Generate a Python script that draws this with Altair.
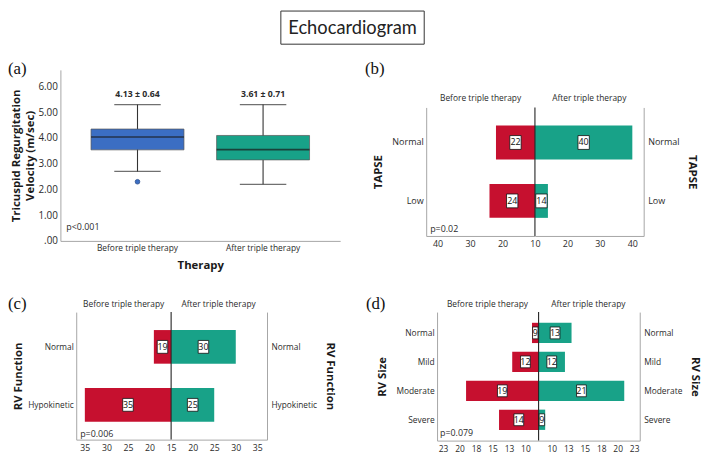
import altair as alt
import pandas as pd

FONT = "Open Sans"
SERIF = "Liberation Serif"
BLUE = "#3b6ec3"
TEAL = "#18a288"
RED = "#c6102f"
FRAME = "#a6a6a6"
TXT = "#2b2b2b"

# ---------------- data ----------------
# (a) box plot summaries
groups = ["Before triple therapy", "After triple therapy"]
q1 = [3.54, 3.15]
median = [4.04, 3.55]
q3 = [4.35, 4.10]
whisker_low = [2.70, 2.20]
whisker_high = [5.30, 5.30]
box_colors = [BLUE, TEAL]
outlier_groups = ["Before triple therapy"]
outlier_values = [2.30]
mean_sd = ["4.13 \u00b1 0.64", "3.61 \u00b1 0.71"]
y_ticks_a = [0, 1, 2, 3, 4, 5, 6]

# (b) TAPSE
tapse_cats = ["Normal", "Low"]
tapse_before = [22, 24]
tapse_after = [40, 14]
tapse_ticks_left = [10, 20, 30, 40]
tapse_ticks_right = [20, 30, 40]

# (c) RV function
rvf_cats = ["Normal", "Hypokinetic"]
rvf_before = [19, 35]
rvf_after = [30, 25]
rvf_ticks_left = [15, 20, 25, 30, 35]
rvf_ticks_right = [20, 25, 30, 35]

# (d) RV size
rvs_cats = ["Normal", "Mild", "Moderate", "Severe"]
rvs_before = [9, 12, 19, 14]
rvs_after = [13, 12, 21, 9]
rvs_ticks = [10, 12.5, 15, 17.5, 20, 22.5]

# ---------------- canvas ----------------
W, H = 703, 450


def one(text):
    return pd.DataFrame({"t": [text]})


def label(text, x, y, size=8.5, align="center", font=FONT, weight="normal", color=TXT):
    return alt.Chart(one(text)).mark_text(
        align=align, baseline="middle", fontSize=size, font=font,
        fontWeight=weight, color=color).encode(
        x=alt.value(x), y=alt.value(y), text="t:N")


# ---------------- title box ----------------
title_rect = alt.Chart(one("")).mark_rect(
    filled=False, stroke="#333", strokeWidth=1).encode(
    x=alt.value(276), x2=alt.value(421), y=alt.value(0.5), y2=alt.value(34))
title_text = label("Echocardiogram", 348.5, 17.5, size=18.5, font="Lato", color="#222")

# ---------------- panel (a) ----------------
box_df = pd.DataFrame({
    "g": groups, "q1": q1, "med": median, "q3": q3,
    "lo": whisker_low, "hi": whisker_high, "lab": mean_sd, "col": box_colors,
})
out_df = pd.DataFrame({"g": outlier_groups, "v": outlier_values})

A_L, A_R, A_T, A_B = 53, 336, 60, 233
x_a = alt.X("g:N", sort=groups,
            scale=alt.Scale(range=[A_L, A_R], paddingInner=0, paddingOuter=0.114),
            axis=alt.Axis(title="Therapy", orient="bottom", offset=A_B - H, labelAngle=0,
                          labelFontSize=8.5, labelPadding=3, titleFontSize=11.5,
                          titleFontWeight="bold", titlePadding=7, ticks=False,
                          domainColor=FRAME))
y_scale_a = alt.Scale(domain=[0, 6.65], range=[A_B, A_T], nice=False, zero=True)
y_axis_a = alt.Axis(title=["Tricuspid Regurgitation", "Velocity (m/sec)"], orient="left",
                    offset=-A_L, values=y_ticks_a,
                    labelExpr="datum.value == 0 ? '.00' : format(datum.value, '.2f')",
                    labelFontSize=10, labelPadding=3, titleFontSize=11.5,
                    titleFontWeight="bold", titlePadding=2, titleLineHeight=14.5,
                    ticks=False, grid=False, domainColor=FRAME)


def ya(field=None, datum=None):
    if datum is not None:
        return alt.Y(datum=datum, type="quantitative", scale=y_scale_a, axis=y_axis_a)
    return alt.Y(field, type="quantitative", scale=y_scale_a, axis=y_axis_a)


base_a = alt.Chart(box_df)
whisk = base_a.mark_rule(color="#333", strokeWidth=1.1).encode(x=x_a, y=ya("lo"), y2="hi")
boxes = base_a.mark_bar(size=94, stroke="#555", strokeWidth=0.7).encode(
    x=x_a, y=ya("q1"), y2="q3", color=alt.Color("col:N", scale=None))
med_line = base_a.mark_tick(size=94, thickness=1.6, color="#1a1a1a").encode(x=x_a, y=ya("med"))
cap_lo = base_a.mark_tick(size=47, thickness=1.2, color="#333").encode(x=x_a, y=ya("lo"))
cap_hi = base_a.mark_tick(size=47, thickness=1.2, color="#333").encode(x=x_a, y=ya("hi"))
outl = alt.Chart(out_df).mark_point(filled=True, size=22, fill=BLUE, stroke="#2c4f8c",
                                   strokeWidth=0.8, opacity=1).encode(x=x_a, y=ya("v"))
mean_lab = base_a.mark_text(fontSize=8.8, fontWeight="bold", color=TXT).encode(
    x=x_a, y=ya(datum=5.73), text="lab:N")
p_a = alt.Chart(one("p<0.001")).mark_text(align="left", fontSize=9, color=TXT).encode(
    x=alt.value(A_L + 6), y=ya(datum=0.55), text="t:N")

panel_a = alt.layer(whisk, boxes, med_line, cap_lo, cap_hi, outl, mean_lab, p_a)

# ---------------- pyramid halves ----------------
P2 = "M-0.82,-1L0.82,-1L0.82,1L-0.82,1Z"
P1 = "M-0.46,-1L0.46,-1L0.46,1L-0.46,1Z"


def half(cats, vals, side, color, base, maxv, xc, xo, yt, yb, ticks, fmt, ytitle,
         pi, po, boxsize, lab_size, tick_size, tpad=8):
    df = pd.DataFrame({"cat": cats, "v": vals})
    xs = alt.Scale(domain=[base, maxv], range=[xc, xo], nice=False, zero=False)
    xax = alt.Axis(values=ticks, format=fmt, title=None, orient="bottom", offset=yb - H,
                   ticks=False, labelFlush=False, labelOverlap=False, labelFontSize=tick_size,
                   labelPadding=4, domainColor=FRAME, grid=False)
    yax = alt.Axis(orient=side, offset=(-xo if side == "left" else xo - W), title=ytitle,
                   ticks=False, labelFontSize=lab_size,
                   labelPadding=3 if side == "left" else 4, titleFontSize=11.5,
                   titleFontWeight="bold", titlePadding=tpad, domainColor=FRAME, grid=False)
    Y = alt.Y("cat:N", sort=cats,
              scale=alt.Scale(range=[yt, yb], paddingInner=pi, paddingOuter=po), axis=yax)

    def X(field=None, datum=None):
        if datum is not None:
            return alt.X(datum=datum, type="quantitative", scale=xs, axis=xax)
        return alt.X(field, type="quantitative", scale=xs, axis=xax)

    layers = [alt.Chart(df).mark_bar(color=color).encode(x=X("v"), x2=alt.datum(base), y=Y)]
    if side == "right":
        layers.append(alt.Chart(one("")).mark_rule(color="#222", strokeWidth=1.1).encode(
            x=X(datum=base), y=alt.value(yt), y2=alt.value(yb)))
    lab = alt.Chart(df).transform_calculate(
        mid=f"(datum.v + {base}) / 2",
        shp=f"datum.v < 10 ? '{P1}' : '{P2}'")
    layers.append(lab.mark_point(filled=True, fill="white", stroke="#111", strokeWidth=0.8,
                                 opacity=1, size=boxsize).encode(
        x=X("mid"), y=Y, shape=alt.Shape("shp:N", scale=None)))
    layers.append(lab.mark_text(fontSize=9, color="#111").encode(
        x=X("mid"), y=Y, text="v:Q"))
    return alt.layer(*layers)


# (b) TAPSE: plot 423..643 x, 98..228 y, centre 533
bL = half(tapse_cats, tapse_before, "left", RED, 10, 43.5, 533, 423, 98, 228,
          tapse_ticks_left, "d", "TAPSE", 0.42, 0.31, 196, 9.1, 9)
bR = half(tapse_cats, tapse_after, "right", TEAL, 10, 43.5, 533, 643, 98, 228,
          tapse_ticks_right, "d", "TAPSE", 0.42, 0.31, 196, 9.1, 9)

# (c) RV function: plot 69..262 x, 305..434 y, centre 165
cL = half(rvf_cats, rvf_before, "left", RED, 15, 37.0, 165, 69, 305, 434,
          rvf_ticks_left, "d", "RV Function", 0.42, 0.31, 169, 8.4, 8.8, tpad=4)
cR = half(rvf_cats, rvf_after, "right", TEAL, 15, 37.25, 165, 262, 305, 434,
          rvf_ticks_right, "d", "RV Function", 0.42, 0.31, 169, 8.4, 8.8)

# (d) RV size: plot 434..639 x, 305..435 y, centre 536.7
dL = half(rvs_cats, rvs_before, "left", RED, 8, 23.4, 536.7, 434, 305, 435,
          rvs_ticks, ".0f", "RV Size", 0.30, 0.37, 144, 8.5, 8.5)
dR = half(rvs_cats, rvs_after, "right", TEAL, 8, 23.35, 536.7, 639, 305, 435,
          rvs_ticks, ".0f", "RV Size", 0.30, 0.37, 144, 8.5, 8.5)

notes = [
    label("(a)", 0, 59, size=17, align="left", font=SERIF, color="#111"),
    label("(b)", 361, 59, size=17, align="left", font=SERIF, color="#111"),
    label("(c)", 0, 297, size=17, align="left", font=SERIF, color="#111"),
    label("(d)", 362, 297, size=17, align="left", font=SERIF, color="#111"),
    label("Before triple therapy", 478, 88),
    label("After triple therapy", 588, 88),
    label("Before triple therapy", 117, 297),
    label("After triple therapy", 213, 297),
    label("Before triple therapy", 485, 297),
    label("After triple therapy", 587, 297),
    label("p=0.02", 427, 221, size=9, align="left"),
    label("p=0.006", 73, 428, size=9, align="left"),
    label("p=0.079", 437, 427, size=9, align="left"),
]

chart = alt.layer(
    title_rect, title_text, panel_a, bL, bR, cL, cR, dL, dR, *notes
).resolve_scale(x="independent", y="independent").resolve_axis(
    x="independent", y="independent"
).properties(
    width=W, height=H, padding=0, autosize=alt.AutoSizeParams(type="none")
).configure(font=FONT).configure_view(stroke=None).configure_axis(
    labelColor=TXT, titleColor="#1a1a1a", labelFont=FONT, titleFont=FONT)

chart.save("out.html", embed_options={"renderer": "svg", "actions": False})
